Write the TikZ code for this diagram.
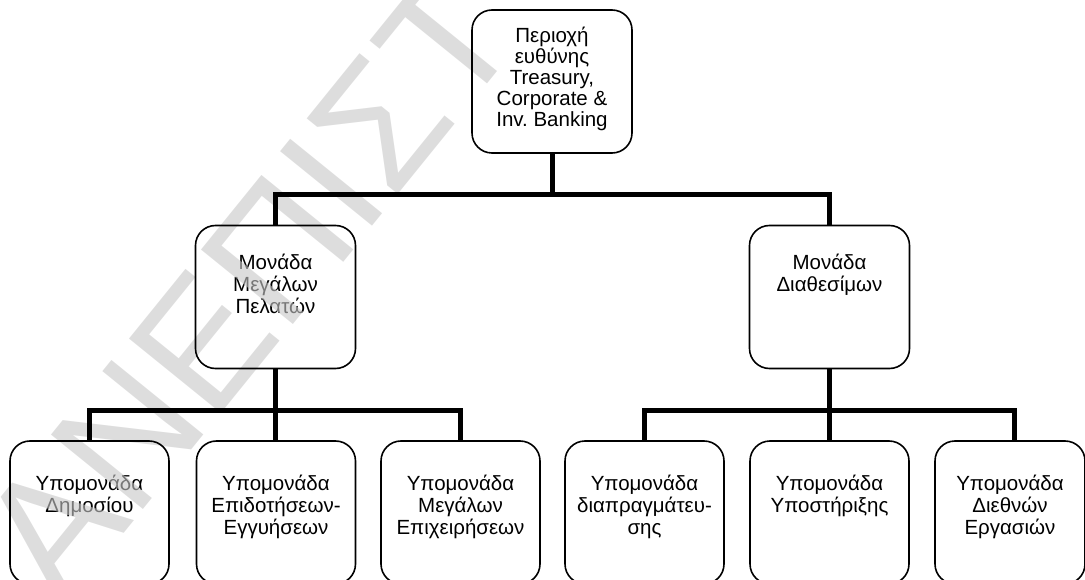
\documentclass[tikz,border=0pt]{standalone}
\usepackage{fontspec}
\setmainfont{Liberation Sans}
\frenchspacing
\pgfdeclarelayer{words}
\pgfdeclarelayer{mark}
\pgfsetlayers{words,mark,main}
\definecolor{markgray}{gray}{0.78}
\begin{document}
\begin{tikzpicture}[x=1pt,y=-1pt,
  unit/.style={draw, line width=1.6pt, rounded corners=20pt,
    minimum width=159pt, minimum height=143pt, inner sep=0pt},
  label txt/.style={anchor=north, align=center, inner sep=0pt,
    font=\fontsize{20.5}{22}\selectfont},
  bus/.style={line width=5pt}]
\useasboundingbox (0,0) rectangle (1085,580);

% organisation boxes
\node[unit, minimum width=160pt] (top) at (552,81.5) {};
\node[unit, minimum width=160pt] (ml) at (275.5,297) {};
\node[unit, minimum width=160pt] (mr) at (829.5,297) {};
\node[unit] (b1) at (89.5,512.5) {};
\node[unit] (b2) at (276,512.5) {};
\node[unit] (b3) at (460.5,512.5) {};
\node[unit] (b4) at (644.5,512.5) {};
\node[unit] (b5) at (829.5,512.5) {};
\node[unit, minimum width=150pt] (b6) at (1010,512.5) {};

% box texts
\begin{pgfonlayer}{words}
\node[label txt, font=\fontsize{20.5}{21}\selectfont] (ttop) at ([yshift=-17pt]top.north)
  {\rule{0pt}{16pt}Περιοχή\\ευθύνης\\Treasury,\\Corporate \&\\Inv. Banking};
\node[label txt] (tml) at ([yshift=-29pt]ml.north) {\rule{0pt}{16pt}Μονάδα\\Μεγάλων\\Πελατών};
\node[label txt] (tmr) at ([yshift=-29pt]mr.north) {\rule{0pt}{16pt}Μονάδα\\Διαθεσίμων};
\node[label txt] (tb1) at ([yshift=-34pt]b1.north) {\rule{0pt}{16pt}Υπομονάδα\\Δημοσίου};
\node[label txt] (tb2) at ([yshift=-34pt]b2.north) {\rule{0pt}{16pt}Υπομονάδα\\Επιδοτήσεων-\\Εγγυήσεων};
\node[label txt] (tb3) at ([yshift=-34pt]b3.north) {\rule{0pt}{16pt}Υπομονάδα\\Μεγάλων\\Επιχειρήσεων};
\node[label txt] (tb4) at ([yshift=-34pt]b4.north) {\rule{0pt}{16pt}Υπομονάδα\\διαπραγμάτευ-\\σης};
\node[label txt] (tb5) at ([yshift=-34pt]b5.north) {\rule{0pt}{16pt}Υπομονάδα\\Υποστήριξης};
\node[label txt] (tb6) at ([yshift=-34pt]b6.north) {\rule{0pt}{16pt}Υπομονάδα\\Διεθνών\\Εργασιών};
\end{pgfonlayer}

% diagonal watermark
\begin{pgfonlayer}{mark}
\node[anchor=base west, inner sep=0pt, rotate=51, text=markgray, text opacity=0.6,
  font=\fontsize{172}{172}\selectfont] (wm) at (62,610) {ΑΝΕΠΙΣΤ};
\end{pgfonlayer}

% connectors
\draw[bus] (top.south) -- (top.south |- 0,195);
\draw[bus] (ml.north) -- (ml.north |- 0,195) -| (mr.north);
\draw[bus] (ml.south) -- (b2.north -| ml.south);
\draw[bus] (b1.north) -- (b1.north |- 0,410) -| (b3.north);
\draw[bus] (mr.south) -- (b5.north -| mr.south);
\draw[bus] (b4.north) -- (b4.north |- 0,410) -| ([xshift=4pt]b6.north);
\end{tikzpicture}
\end{document}
